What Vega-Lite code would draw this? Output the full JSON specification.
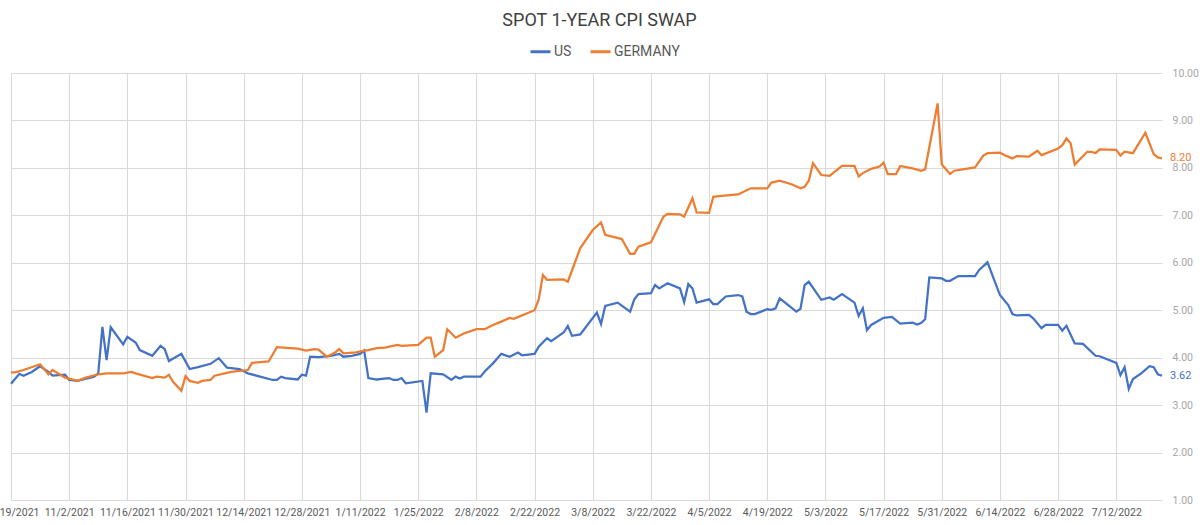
{
  "$schema": "https://vega.github.io/schema/vega-lite/v6.json",
  "autosize": "none",
  "width": 1151,
  "height": 427,
  "padding": {"left": 11, "top": 73, "right": 38, "bottom": 25},
  "background": "white",
  "title": {
    "text": "SPOT 1-YEAR CPI SWAP",
    "anchor": "middle",
    "frame": "group",
    "dx": 13,
    "offset": 10,
    "fontSize": 18,
    "font": "Roboto",
    "fontWeight": "normal",
    "color": "#404040"
  },
  "config": {
    "view": {"stroke": null},
    "axis": {"gridColor": "#D9D9D9", "gridWidth": 1}
  },
  "data": {
    "values": [
      {"date": "2021-10-19T00:00", "series": "US", "value": 3.45},
      {"date": "2021-10-21T00:00", "series": "US", "value": 3.66},
      {"date": "2021-10-22T00:00", "series": "US", "value": 3.62},
      {"date": "2021-10-24T00:00", "series": "US", "value": 3.70},
      {"date": "2021-10-26T00:00", "series": "US", "value": 3.82},
      {"date": "2021-10-28T00:00", "series": "US", "value": 3.70},
      {"date": "2021-10-29T00:00", "series": "US", "value": 3.62},
      {"date": "2021-11-01T00:00", "series": "US", "value": 3.64},
      {"date": "2021-11-02T00:00", "series": "US", "value": 3.53},
      {"date": "2021-11-04T00:00", "series": "US", "value": 3.51},
      {"date": "2021-11-08T00:00", "series": "US", "value": 3.60},
      {"date": "2021-11-09T00:00", "series": "US", "value": 3.67},
      {"date": "2021-11-10T00:00", "series": "US", "value": 4.65},
      {"date": "2021-11-11T00:00", "series": "US", "value": 3.95},
      {"date": "2021-11-12T00:00", "series": "US", "value": 4.64},
      {"date": "2021-11-15T00:00", "series": "US", "value": 4.28},
      {"date": "2021-11-16T00:00", "series": "US", "value": 4.44},
      {"date": "2021-11-18T00:00", "series": "US", "value": 4.32},
      {"date": "2021-11-19T00:00", "series": "US", "value": 4.16},
      {"date": "2021-11-22T00:00", "series": "US", "value": 4.04},
      {"date": "2021-11-24T00:00", "series": "US", "value": 4.25},
      {"date": "2021-11-25T00:00", "series": "US", "value": 4.18},
      {"date": "2021-11-26T00:00", "series": "US", "value": 3.93},
      {"date": "2021-11-29T00:00", "series": "US", "value": 4.08},
      {"date": "2021-12-01T00:00", "series": "US", "value": 3.76},
      {"date": "2021-12-03T00:00", "series": "US", "value": 3.80},
      {"date": "2021-12-06T00:00", "series": "US", "value": 3.87},
      {"date": "2021-12-08T00:00", "series": "US", "value": 3.99},
      {"date": "2021-12-10T00:00", "series": "US", "value": 3.79},
      {"date": "2021-12-13T00:00", "series": "US", "value": 3.76},
      {"date": "2021-12-15T00:00", "series": "US", "value": 3.67},
      {"date": "2021-12-21T00:00", "series": "US", "value": 3.53},
      {"date": "2021-12-22T00:00", "series": "US", "value": 3.53},
      {"date": "2021-12-23T00:00", "series": "US", "value": 3.60},
      {"date": "2021-12-24T00:00", "series": "US", "value": 3.57},
      {"date": "2021-12-27T00:00", "series": "US", "value": 3.54},
      {"date": "2021-12-28T00:00", "series": "US", "value": 3.64},
      {"date": "2021-12-29T00:00", "series": "US", "value": 3.62},
      {"date": "2021-12-30T00:00", "series": "US", "value": 4.02},
      {"date": "2022-01-01T00:00", "series": "US", "value": 4.01},
      {"date": "2022-01-04T00:00", "series": "US", "value": 4.04},
      {"date": "2022-01-06T00:00", "series": "US", "value": 4.08},
      {"date": "2022-01-07T00:00", "series": "US", "value": 4.02},
      {"date": "2022-01-09T00:00", "series": "US", "value": 4.04},
      {"date": "2022-01-11T00:00", "series": "US", "value": 4.08},
      {"date": "2022-01-12T00:00", "series": "US", "value": 4.15},
      {"date": "2022-01-13T00:00", "series": "US", "value": 3.57},
      {"date": "2022-01-15T00:00", "series": "US", "value": 3.54},
      {"date": "2022-01-18T00:00", "series": "US", "value": 3.57},
      {"date": "2022-01-19T00:00", "series": "US", "value": 3.53},
      {"date": "2022-01-20T00:00", "series": "US", "value": 3.53},
      {"date": "2022-01-21T00:00", "series": "US", "value": 3.57},
      {"date": "2022-01-22T00:00", "series": "US", "value": 3.46},
      {"date": "2022-01-26T00:00", "series": "US", "value": 3.51},
      {"date": "2022-01-27T00:00", "series": "US", "value": 2.84},
      {"date": "2022-01-28T00:00", "series": "US", "value": 3.67},
      {"date": "2022-01-31T00:00", "series": "US", "value": 3.65},
      {"date": "2022-02-02T00:00", "series": "US", "value": 3.53},
      {"date": "2022-02-03T00:00", "series": "US", "value": 3.60},
      {"date": "2022-02-04T00:00", "series": "US", "value": 3.56},
      {"date": "2022-02-05T00:00", "series": "US", "value": 3.60},
      {"date": "2022-02-09T00:00", "series": "US", "value": 3.60},
      {"date": "2022-02-10T00:00", "series": "US", "value": 3.71},
      {"date": "2022-02-12T00:00", "series": "US", "value": 3.88},
      {"date": "2022-02-14T00:00", "series": "US", "value": 4.08},
      {"date": "2022-02-16T00:00", "series": "US", "value": 4.02},
      {"date": "2022-02-18T00:00", "series": "US", "value": 4.11},
      {"date": "2022-02-19T00:00", "series": "US", "value": 4.05},
      {"date": "2022-02-22T00:00", "series": "US", "value": 4.08},
      {"date": "2022-02-23T00:00", "series": "US", "value": 4.23},
      {"date": "2022-02-25T00:00", "series": "US", "value": 4.41},
      {"date": "2022-02-26T00:00", "series": "US", "value": 4.35},
      {"date": "2022-03-01T00:00", "series": "US", "value": 4.53},
      {"date": "2022-03-02T00:00", "series": "US", "value": 4.67},
      {"date": "2022-03-03T00:00", "series": "US", "value": 4.46},
      {"date": "2022-03-05T00:00", "series": "US", "value": 4.49},
      {"date": "2022-03-09T00:00", "series": "US", "value": 4.95},
      {"date": "2022-03-10T00:00", "series": "US", "value": 4.71},
      {"date": "2022-03-11T00:00", "series": "US", "value": 5.09},
      {"date": "2022-03-14T00:00", "series": "US", "value": 5.16},
      {"date": "2022-03-17T00:00", "series": "US", "value": 4.97},
      {"date": "2022-03-18T00:00", "series": "US", "value": 5.23},
      {"date": "2022-03-19T00:00", "series": "US", "value": 5.34},
      {"date": "2022-03-22T00:00", "series": "US", "value": 5.36},
      {"date": "2022-03-23T00:00", "series": "US", "value": 5.53},
      {"date": "2022-03-24T00:00", "series": "US", "value": 5.46},
      {"date": "2022-03-26T00:00", "series": "US", "value": 5.57},
      {"date": "2022-03-29T00:00", "series": "US", "value": 5.46},
      {"date": "2022-03-30T00:00", "series": "US", "value": 5.17},
      {"date": "2022-03-31T00:00", "series": "US", "value": 5.55},
      {"date": "2022-04-01T00:00", "series": "US", "value": 5.46},
      {"date": "2022-04-02T00:00", "series": "US", "value": 5.16},
      {"date": "2022-04-05T00:00", "series": "US", "value": 5.23},
      {"date": "2022-04-06T00:00", "series": "US", "value": 5.13},
      {"date": "2022-04-07T00:00", "series": "US", "value": 5.13},
      {"date": "2022-04-09T00:00", "series": "US", "value": 5.29},
      {"date": "2022-04-12T00:00", "series": "US", "value": 5.32},
      {"date": "2022-04-13T00:00", "series": "US", "value": 5.29},
      {"date": "2022-04-14T00:00", "series": "US", "value": 4.97},
      {"date": "2022-04-15T00:00", "series": "US", "value": 4.92},
      {"date": "2022-04-16T00:00", "series": "US", "value": 4.92},
      {"date": "2022-04-19T00:00", "series": "US", "value": 5.02},
      {"date": "2022-04-20T00:00", "series": "US", "value": 5.01},
      {"date": "2022-04-21T00:00", "series": "US", "value": 5.04},
      {"date": "2022-04-22T00:00", "series": "US", "value": 5.25},
      {"date": "2022-04-26T00:00", "series": "US", "value": 4.97},
      {"date": "2022-04-27T00:00", "series": "US", "value": 5.03},
      {"date": "2022-04-28T00:00", "series": "US", "value": 5.53},
      {"date": "2022-04-29T00:00", "series": "US", "value": 5.60},
      {"date": "2022-05-02T00:00", "series": "US", "value": 5.22},
      {"date": "2022-05-04T00:00", "series": "US", "value": 5.27},
      {"date": "2022-05-05T00:00", "series": "US", "value": 5.22},
      {"date": "2022-05-07T00:00", "series": "US", "value": 5.34},
      {"date": "2022-05-10T00:00", "series": "US", "value": 5.16},
      {"date": "2022-05-11T00:00", "series": "US", "value": 4.88},
      {"date": "2022-05-12T00:00", "series": "US", "value": 5.04},
      {"date": "2022-05-13T00:00", "series": "US", "value": 4.58},
      {"date": "2022-05-14T00:00", "series": "US", "value": 4.69},
      {"date": "2022-05-17T00:00", "series": "US", "value": 4.84},
      {"date": "2022-05-19T00:00", "series": "US", "value": 4.86},
      {"date": "2022-05-21T00:00", "series": "US", "value": 4.72},
      {"date": "2022-05-24T00:00", "series": "US", "value": 4.74},
      {"date": "2022-05-25T00:00", "series": "US", "value": 4.70},
      {"date": "2022-05-26T00:00", "series": "US", "value": 4.73},
      {"date": "2022-05-27T00:00", "series": "US", "value": 4.81},
      {"date": "2022-05-28T00:00", "series": "US", "value": 5.69},
      {"date": "2022-05-31T00:00", "series": "US", "value": 5.67},
      {"date": "2022-06-01T00:00", "series": "US", "value": 5.62},
      {"date": "2022-06-02T00:00", "series": "US", "value": 5.62},
      {"date": "2022-06-04T00:00", "series": "US", "value": 5.72},
      {"date": "2022-06-08T00:00", "series": "US", "value": 5.72},
      {"date": "2022-06-09T00:00", "series": "US", "value": 5.85},
      {"date": "2022-06-11T00:00", "series": "US", "value": 6.01},
      {"date": "2022-06-14T00:00", "series": "US", "value": 5.32},
      {"date": "2022-06-16T00:00", "series": "US", "value": 5.11},
      {"date": "2022-06-17T00:00", "series": "US", "value": 4.92},
      {"date": "2022-06-18T00:00", "series": "US", "value": 4.89},
      {"date": "2022-06-21T00:00", "series": "US", "value": 4.90},
      {"date": "2022-06-22T00:00", "series": "US", "value": 4.83},
      {"date": "2022-06-24T00:00", "series": "US", "value": 4.62},
      {"date": "2022-06-25T00:00", "series": "US", "value": 4.69},
      {"date": "2022-06-28T00:00", "series": "US", "value": 4.69},
      {"date": "2022-06-29T00:00", "series": "US", "value": 4.57},
      {"date": "2022-06-30T00:00", "series": "US", "value": 4.67},
      {"date": "2022-07-02T00:00", "series": "US", "value": 4.30},
      {"date": "2022-07-04T00:00", "series": "US", "value": 4.29},
      {"date": "2022-07-07T00:00", "series": "US", "value": 4.04},
      {"date": "2022-07-08T00:00", "series": "US", "value": 4.03},
      {"date": "2022-07-12T00:00", "series": "US", "value": 3.89},
      {"date": "2022-07-13T00:00", "series": "US", "value": 3.63},
      {"date": "2022-07-14T00:00", "series": "US", "value": 3.80},
      {"date": "2022-07-15T00:00", "series": "US", "value": 3.34},
      {"date": "2022-07-16T00:00", "series": "US", "value": 3.55},
      {"date": "2022-07-18T00:00", "series": "US", "value": 3.67},
      {"date": "2022-07-20T00:00", "series": "US", "value": 3.82},
      {"date": "2022-07-21T00:00", "series": "US", "value": 3.80},
      {"date": "2022-07-22T00:00", "series": "US", "value": 3.65},
      {"date": "2022-07-23T00:00", "series": "US", "value": 3.62},
      {"date": "2021-10-19T00:00", "series": "GERMANY", "value": 3.69},
      {"date": "2021-10-20T00:00", "series": "GERMANY", "value": 3.69},
      {"date": "2021-10-22T00:00", "series": "GERMANY", "value": 3.74},
      {"date": "2021-10-26T00:00", "series": "GERMANY", "value": 3.86},
      {"date": "2021-10-28T00:00", "series": "GERMANY", "value": 3.65},
      {"date": "2021-10-29T00:00", "series": "GERMANY", "value": 3.74},
      {"date": "2021-11-01T00:00", "series": "GERMANY", "value": 3.58},
      {"date": "2021-11-04T00:00", "series": "GERMANY", "value": 3.51},
      {"date": "2021-11-06T00:00", "series": "GERMANY", "value": 3.58},
      {"date": "2021-11-09T00:00", "series": "GERMANY", "value": 3.65},
      {"date": "2021-11-11T00:00", "series": "GERMANY", "value": 3.67},
      {"date": "2021-11-15T00:00", "series": "GERMANY", "value": 3.67},
      {"date": "2021-11-17T00:00", "series": "GERMANY", "value": 3.70},
      {"date": "2021-11-18T00:00", "series": "GERMANY", "value": 3.67},
      {"date": "2021-11-22T00:00", "series": "GERMANY", "value": 3.57},
      {"date": "2021-11-23T00:00", "series": "GERMANY", "value": 3.60},
      {"date": "2021-11-25T00:00", "series": "GERMANY", "value": 3.58},
      {"date": "2021-11-26T00:00", "series": "GERMANY", "value": 3.64},
      {"date": "2021-11-27T00:00", "series": "GERMANY", "value": 3.49},
      {"date": "2021-11-29T00:00", "series": "GERMANY", "value": 3.30},
      {"date": "2021-11-30T00:00", "series": "GERMANY", "value": 3.61},
      {"date": "2021-12-01T00:00", "series": "GERMANY", "value": 3.51},
      {"date": "2021-12-03T00:00", "series": "GERMANY", "value": 3.47},
      {"date": "2021-12-04T00:00", "series": "GERMANY", "value": 3.51},
      {"date": "2021-12-06T00:00", "series": "GERMANY", "value": 3.53},
      {"date": "2021-12-07T00:00", "series": "GERMANY", "value": 3.62},
      {"date": "2021-12-11T00:00", "series": "GERMANY", "value": 3.70},
      {"date": "2021-12-15T00:00", "series": "GERMANY", "value": 3.74},
      {"date": "2021-12-16T00:00", "series": "GERMANY", "value": 3.89},
      {"date": "2021-12-20T00:00", "series": "GERMANY", "value": 3.92},
      {"date": "2021-12-22T00:00", "series": "GERMANY", "value": 4.22},
      {"date": "2021-12-27T00:00", "series": "GERMANY", "value": 4.19},
      {"date": "2021-12-29T00:00", "series": "GERMANY", "value": 4.15},
      {"date": "2021-12-31T00:00", "series": "GERMANY", "value": 4.18},
      {"date": "2022-01-01T00:00", "series": "GERMANY", "value": 4.17},
      {"date": "2022-01-03T00:00", "series": "GERMANY", "value": 4.02},
      {"date": "2022-01-05T00:00", "series": "GERMANY", "value": 4.11},
      {"date": "2022-01-06T00:00", "series": "GERMANY", "value": 4.18},
      {"date": "2022-01-07T00:00", "series": "GERMANY", "value": 4.09},
      {"date": "2022-01-10T00:00", "series": "GERMANY", "value": 4.11},
      {"date": "2022-01-12T00:00", "series": "GERMANY", "value": 4.15},
      {"date": "2022-01-13T00:00", "series": "GERMANY", "value": 4.16},
      {"date": "2022-01-15T00:00", "series": "GERMANY", "value": 4.20},
      {"date": "2022-01-17T00:00", "series": "GERMANY", "value": 4.21},
      {"date": "2022-01-20T00:00", "series": "GERMANY", "value": 4.27},
      {"date": "2022-01-21T00:00", "series": "GERMANY", "value": 4.25},
      {"date": "2022-01-25T00:00", "series": "GERMANY", "value": 4.27},
      {"date": "2022-01-27T00:00", "series": "GERMANY", "value": 4.42},
      {"date": "2022-01-28T00:00", "series": "GERMANY", "value": 4.42},
      {"date": "2022-01-29T00:00", "series": "GERMANY", "value": 4.02},
      {"date": "2022-01-31T00:00", "series": "GERMANY", "value": 4.16},
      {"date": "2022-02-01T00:00", "series": "GERMANY", "value": 4.60},
      {"date": "2022-02-03T00:00", "series": "GERMANY", "value": 4.42},
      {"date": "2022-02-05T00:00", "series": "GERMANY", "value": 4.51},
      {"date": "2022-02-08T00:00", "series": "GERMANY", "value": 4.60},
      {"date": "2022-02-10T00:00", "series": "GERMANY", "value": 4.60},
      {"date": "2022-02-12T00:00", "series": "GERMANY", "value": 4.69},
      {"date": "2022-02-14T00:00", "series": "GERMANY", "value": 4.76},
      {"date": "2022-02-16T00:00", "series": "GERMANY", "value": 4.84},
      {"date": "2022-02-17T00:00", "series": "GERMANY", "value": 4.82},
      {"date": "2022-02-22T00:00", "series": "GERMANY", "value": 5.00},
      {"date": "2022-02-23T00:00", "series": "GERMANY", "value": 5.22},
      {"date": "2022-02-24T00:00", "series": "GERMANY", "value": 5.74},
      {"date": "2022-02-25T00:00", "series": "GERMANY", "value": 5.64},
      {"date": "2022-03-01T00:00", "series": "GERMANY", "value": 5.65},
      {"date": "2022-03-02T00:00", "series": "GERMANY", "value": 5.60},
      {"date": "2022-03-05T00:00", "series": "GERMANY", "value": 6.31},
      {"date": "2022-03-08T00:00", "series": "GERMANY", "value": 6.69},
      {"date": "2022-03-10T00:00", "series": "GERMANY", "value": 6.85},
      {"date": "2022-03-11T00:00", "series": "GERMANY", "value": 6.59},
      {"date": "2022-03-15T00:00", "series": "GERMANY", "value": 6.50},
      {"date": "2022-03-17T00:00", "series": "GERMANY", "value": 6.19},
      {"date": "2022-03-18T00:00", "series": "GERMANY", "value": 6.19},
      {"date": "2022-03-19T00:00", "series": "GERMANY", "value": 6.34},
      {"date": "2022-03-22T00:00", "series": "GERMANY", "value": 6.43},
      {"date": "2022-03-25T00:00", "series": "GERMANY", "value": 6.97},
      {"date": "2022-03-26T00:00", "series": "GERMANY", "value": 7.03},
      {"date": "2022-03-29T00:00", "series": "GERMANY", "value": 7.02},
      {"date": "2022-03-30T00:00", "series": "GERMANY", "value": 6.97},
      {"date": "2022-04-01T00:00", "series": "GERMANY", "value": 7.36},
      {"date": "2022-04-02T00:00", "series": "GERMANY", "value": 7.06},
      {"date": "2022-04-05T00:00", "series": "GERMANY", "value": 7.05},
      {"date": "2022-04-06T00:00", "series": "GERMANY", "value": 7.39},
      {"date": "2022-04-08T00:00", "series": "GERMANY", "value": 7.41},
      {"date": "2022-04-12T00:00", "series": "GERMANY", "value": 7.44},
      {"date": "2022-04-15T00:00", "series": "GERMANY", "value": 7.57},
      {"date": "2022-04-19T00:00", "series": "GERMANY", "value": 7.57},
      {"date": "2022-04-20T00:00", "series": "GERMANY", "value": 7.69},
      {"date": "2022-04-22T00:00", "series": "GERMANY", "value": 7.73},
      {"date": "2022-04-25T00:00", "series": "GERMANY", "value": 7.65},
      {"date": "2022-04-27T00:00", "series": "GERMANY", "value": 7.57},
      {"date": "2022-04-28T00:00", "series": "GERMANY", "value": 7.60},
      {"date": "2022-04-29T00:00", "series": "GERMANY", "value": 7.73},
      {"date": "2022-04-30T00:00", "series": "GERMANY", "value": 8.10},
      {"date": "2022-05-02T00:00", "series": "GERMANY", "value": 7.85},
      {"date": "2022-05-04T00:00", "series": "GERMANY", "value": 7.83},
      {"date": "2022-05-07T00:00", "series": "GERMANY", "value": 8.04},
      {"date": "2022-05-10T00:00", "series": "GERMANY", "value": 8.04},
      {"date": "2022-05-11T00:00", "series": "GERMANY", "value": 7.82},
      {"date": "2022-05-12T00:00", "series": "GERMANY", "value": 7.89},
      {"date": "2022-05-14T00:00", "series": "GERMANY", "value": 7.98},
      {"date": "2022-05-16T00:00", "series": "GERMANY", "value": 8.03},
      {"date": "2022-05-17T00:00", "series": "GERMANY", "value": 8.11},
      {"date": "2022-05-18T00:00", "series": "GERMANY", "value": 7.87},
      {"date": "2022-05-20T00:00", "series": "GERMANY", "value": 7.87},
      {"date": "2022-05-21T00:00", "series": "GERMANY", "value": 8.04},
      {"date": "2022-05-24T00:00", "series": "GERMANY", "value": 7.99},
      {"date": "2022-05-26T00:00", "series": "GERMANY", "value": 7.94},
      {"date": "2022-05-27T00:00", "series": "GERMANY", "value": 7.97},
      {"date": "2022-05-30T00:00", "series": "GERMANY", "value": 9.36},
      {"date": "2022-05-31T00:00", "series": "GERMANY", "value": 8.07},
      {"date": "2022-06-02T00:00", "series": "GERMANY", "value": 7.87},
      {"date": "2022-06-03T00:00", "series": "GERMANY", "value": 7.94},
      {"date": "2022-06-08T00:00", "series": "GERMANY", "value": 8.01},
      {"date": "2022-06-10T00:00", "series": "GERMANY", "value": 8.26},
      {"date": "2022-06-11T00:00", "series": "GERMANY", "value": 8.31},
      {"date": "2022-06-14T00:00", "series": "GERMANY", "value": 8.32},
      {"date": "2022-06-15T00:00", "series": "GERMANY", "value": 8.27},
      {"date": "2022-06-17T00:00", "series": "GERMANY", "value": 8.20},
      {"date": "2022-06-18T00:00", "series": "GERMANY", "value": 8.25},
      {"date": "2022-06-21T00:00", "series": "GERMANY", "value": 8.24},
      {"date": "2022-06-23T00:00", "series": "GERMANY", "value": 8.36},
      {"date": "2022-06-24T00:00", "series": "GERMANY", "value": 8.27},
      {"date": "2022-06-28T00:00", "series": "GERMANY", "value": 8.41},
      {"date": "2022-06-29T00:00", "series": "GERMANY", "value": 8.48},
      {"date": "2022-06-30T00:00", "series": "GERMANY", "value": 8.62},
      {"date": "2022-07-01T00:00", "series": "GERMANY", "value": 8.52},
      {"date": "2022-07-02T00:00", "series": "GERMANY", "value": 8.07},
      {"date": "2022-07-05T00:00", "series": "GERMANY", "value": 8.34},
      {"date": "2022-07-06T00:00", "series": "GERMANY", "value": 8.34},
      {"date": "2022-07-07T00:00", "series": "GERMANY", "value": 8.31},
      {"date": "2022-07-08T00:00", "series": "GERMANY", "value": 8.39},
      {"date": "2022-07-12T00:00", "series": "GERMANY", "value": 8.38},
      {"date": "2022-07-13T00:00", "series": "GERMANY", "value": 8.26},
      {"date": "2022-07-14T00:00", "series": "GERMANY", "value": 8.34},
      {"date": "2022-07-16T00:00", "series": "GERMANY", "value": 8.31},
      {"date": "2022-07-19T00:00", "series": "GERMANY", "value": 8.74},
      {"date": "2022-07-21T00:00", "series": "GERMANY", "value": 8.29},
      {"date": "2022-07-22T00:00", "series": "GERMANY", "value": 8.22},
      {"date": "2022-07-23T00:00", "series": "GERMANY", "value": 8.20}
    ]
  },
  "encoding": {
    "x": {
      "field": "date",
      "type": "temporal",
      "scale": {
        "domain": [
          {"year": 2021, "month": 10, "date": 19},
          {"year": 2022, "month": 7, "date": 23}
        ],
        "nice": false
      },
      "axis": {
        "title": null,
        "orient": "bottom",
        "values": [
          {"year": 2021, "month": 10, "date": 19},
          {"year": 2021, "month": 11, "date": 2},
          {"year": 2021, "month": 11, "date": 16},
          {"year": 2021, "month": 11, "date": 30},
          {"year": 2021, "month": 12, "date": 14},
          {"year": 2021, "month": 12, "date": 28},
          {"year": 2022, "month": 1, "date": 11},
          {"year": 2022, "month": 1, "date": 25},
          {"year": 2022, "month": 2, "date": 8},
          {"year": 2022, "month": 2, "date": 22},
          {"year": 2022, "month": 3, "date": 8},
          {"year": 2022, "month": 3, "date": 22},
          {"year": 2022, "month": 4, "date": 5},
          {"year": 2022, "month": 4, "date": 19},
          {"year": 2022, "month": 5, "date": 3},
          {"year": 2022, "month": 5, "date": 17},
          {"year": 2022, "month": 5, "date": 31},
          {"year": 2022, "month": 6, "date": 14},
          {"year": 2022, "month": 6, "date": 28},
          {"year": 2022, "month": 7, "date": 12}
        ],
        "format": "%-m/%-d/%Y",
        "labelFlush": false,
        "labelOverlap": false,
        "labelBound": false,
        "domain": false,
        "ticks": false,
        "grid": true,
        "labelPadding": 7,
        "labelFontSize": 10.5,
        "labelFont": "Liberation Sans Narrow, Roboto",
        "labelColor": "#595959"
      }
    },
    "y": {
      "field": "value",
      "type": "quantitative",
      "scale": {"domain": [1, 10], "nice": false, "zero": false},
      "axis": {
        "title": null,
        "orient": "right",
        "values": [1, 2, 3, 4, 5, 6, 7, 8, 9, 10],
        "format": ".2f",
        "domain": false,
        "ticks": false,
        "grid": true,
        "labelPadding": 10,
        "labelFontSize": 10.5,
        "labelFont": "Liberation Sans Narrow, Roboto",
        "labelColor": "#A6A6A6"
      }
    },
    "color": {
      "field": "series",
      "type": "nominal",
      "scale": {"domain": ["US", "GERMANY"], "range": ["#4472C4", "#ED7D31"]},
      "legend": {
        "title": null,
        "orient": "none",
        "direction": "horizontal",
        "legendX": 518,
        "legendY": -33,
        "symbolType": "stroke",
        "symbolSize": 400,
        "symbolStrokeWidth": 3,
        "labelFontSize": 14,
        "labelFont": "Roboto",
        "labelColor": "#595959",
        "labelOffset": 2,
        "columnPadding": 12
      }
    }
  },
  "layer": [
    {"mark": {"type": "line", "strokeWidth": 2.25}},
    {
      "transform": [
        {"filter": {"field": "date", "timeUnit": "yearmonthdate", "equal": {"year": 2022, "month": 7, "date": 23}}}
      ],
      "mark": {"type": "text", "align": "left", "baseline": "middle", "dx": 8, "fontSize": 11, "font": "Liberation Sans Narrow, Roboto"},
      "encoding": {
        "text": {"field": "value", "type": "quantitative", "format": ".2f"}
      }
    }
  ]
}
